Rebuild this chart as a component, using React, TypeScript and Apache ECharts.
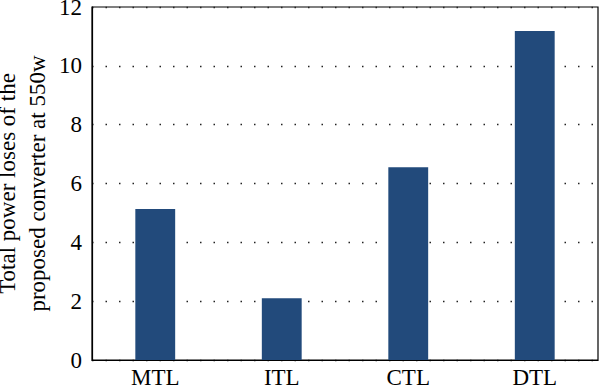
import React, { useEffect, useRef } from "react";
import * as echarts from "echarts";

const categories = ["MTL", "ITL", "CTL", "DTL"];
const losses = [5.13, 2.1, 6.55, 11.18];
const yTicks = { min: 0, max: 12, interval: 2 };
const yName = "Total power loses of the\nproposed converter at 550w";

const FONT = "'Liberation Serif', 'DejaVu Serif', serif";

export default function App() {
  const ref = useRef<HTMLDivElement>(null);
  useEffect(() => {
    if (!ref.current) return;
    const chart = echarts.init(ref.current, null, { renderer: "svg" });
    chart.setOption({
      animation: false,
      backgroundColor: "#fff",
      grid: {
        left: 92,
        right: 2,
        top: 7,
        bottom: 28,
        outerBoundsMode: "none",
        containLabel: false,
        show: true,
        borderColor: "#000",
        borderWidth: 1.2,
        backgroundColor: "transparent",
      },
      xAxis: {
        type: "category",
        data: categories,
        axisLine: { show: true, lineStyle: { color: "#000", width: 1.2 } },
        axisTick: { show: false },
        axisLabel: { color: "#000", fontFamily: FONT, fontSize: 23, margin: 6 },
        splitLine: { show: false },
      },
      yAxis: {
        type: "value",
        min: yTicks.min,
        max: yTicks.max,
        interval: yTicks.interval,
        name: yName,
        nameLocation: "middle",
        nameGap: 40,
        nameMoveOverlap: false,
        nameRotate: 90,
        nameTextStyle: {
          color: "#000",
          fontFamily: FONT,
          fontSize: 23,
          lineHeight: 30,
          align: "center",
        },
        axisLine: { show: true, lineStyle: { color: "#000", width: 1.2 } },
        axisTick: { show: false },
        axisLabel: { color: "#000", fontFamily: FONT, fontSize: 23, margin: 10 },
        splitLine: {
          show: true,
          lineStyle: { color: "#222", width: 1.4, type: [1.5, 12] },
        },
      },
      series: [
        {
          type: "bar",
          data: losses,
          barWidth: "31.5%",
          itemStyle: { color: "#224a7b" },
        },
      ],
    });
    return () => chart.dispose();
  }, []);
  return (
    <div
      ref={ref}
      style={{ position: "absolute", left: 0, top: 0, width: 600, height: 388 }}
    />
  );
}
